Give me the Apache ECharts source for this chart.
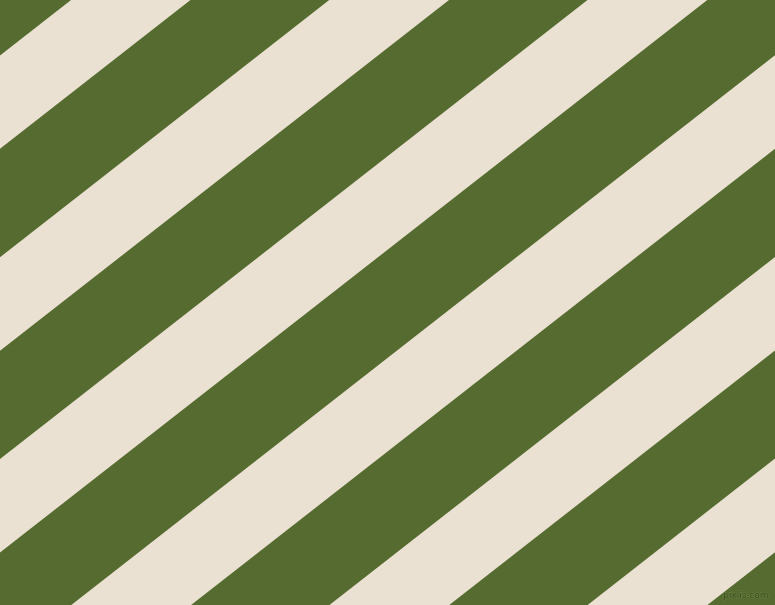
<!DOCTYPE html>
<html>
<head>
<meta charset="utf-8">
<script src="https://cdn.jsdelivr.net/npm/echarts@6/dist/echarts.min.js"></script>
<style>
html,body{margin:0;padding:0;background:#ebe1d2;}
#chart{width:775px;height:605px;}
</style>
</head>
<body>
<div id="chart"></div>
<script>
// Stripe geometry: boundary lines y = c - tan(angle) * x (pixel-space data units)
const stripeAngleDeg = 38;
const greenStripeStarts = [-52.9, 148.8, 350.8, 552.6, 754.3, 956.0, 1157.7];
const greenStripeEnds   = [55.5, 257.2, 459.0, 660.7, 862.4, 1064.1, 1265.8];
const xExtent = [0, 775];
const yExtent = [0, 605];
const watermarkText = 'pixlis.com';

const greenColor = '#556b2f';
const creamColor = '#ebe1d2';

const tanA = Math.tan(stripeAngleDeg * Math.PI / 180);
const stripeData = greenStripeStarts.map((s, i) => [s, greenStripeEnds[i]]);

const chart = echarts.init(document.getElementById('chart'), null, {renderer: 'canvas'});
chart.setOption({
  backgroundColor: creamColor,
  animation: false,
  grid: {left: 0, right: 0, top: 0, bottom: 0},
  xAxis: {type: 'value', min: xExtent[0], max: xExtent[1], show: false},
  yAxis: {type: 'value', min: yExtent[0], max: yExtent[1], inverse: true, show: false},
  series: [{
    type: 'custom',
    clip: true,
    data: stripeData,
    renderItem: function (params, api) {
      const cS = api.value(0), cE = api.value(1);
      const x0 = -300, x1 = 1100;
      const pts = [
        api.coord([x0, cS - tanA * x0]),
        api.coord([x1, cS - tanA * x1]),
        api.coord([x1, cE - tanA * x1]),
        api.coord([x0, cE - tanA * x0])
      ];
      return {
        type: 'polygon',
        shape: {points: pts},
        style: {fill: greenColor, stroke: null}
      };
    }
  }],
  graphic: [{
    type: 'text',
    right: 6,
    bottom: 4,
    z: 100,
    style: {
      text: watermarkText,
      font: '9px "DejaVu Sans", sans-serif',
      fill: '#3a4a1e',
      stroke: 'rgba(120,145,80,0.6)',
      lineWidth: 1
    }
  }]
});
</script>
</body>
</html>
